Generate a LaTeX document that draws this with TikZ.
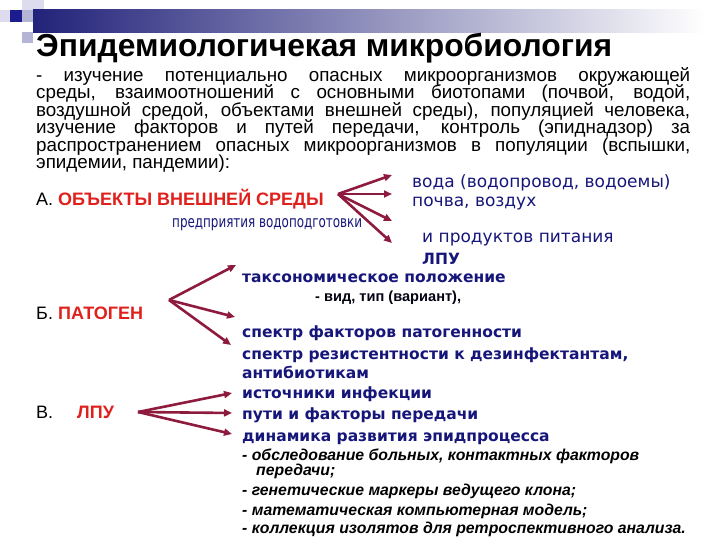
\documentclass[tikz,border=0pt]{standalone}
\usepackage{fontspec}
\usepackage{graphicx}
\setmainfont{Liberation Sans}
\newfontfamily\dv{DejaVu Sans}
\usetikzlibrary{arrows.meta}
\definecolor{navytxt}{HTML}{16167A}
\definecolor{redtxt}{HTML}{E0201C}
\definecolor{arrowc}{HTML}{8E1A3E}
\definecolor{barnavy}{HTML}{22227A}
\definecolor{barmid}{HTML}{A8A8C8}
\definecolor{sqdark}{HTML}{1C1C8E}
\definecolor{sqlight}{HTML}{B4B4D6}
\definecolor{sqpale}{HTML}{DCDCEE}
\begin{document}
\begin{tikzpicture}[x=1pt,y=-1pt,
  lbl/.style={anchor=base west,inner sep=0pt,font=\fontsize{18}{20}\selectfont},
  redlbl/.style={anchor=base west,inner sep=0pt,text=redtxt,font=\fontsize{18}{20}\selectfont\bfseries},
  bluereg/.style={anchor=base west,inner sep=0pt,text=navytxt,font=\dv\fontsize{17}{20}\selectfont},
  bluebold/.style={anchor=base west,inner sep=0pt,text=navytxt,font=\dv\fontsize{15.5}{20}\selectfont\bfseries},
  note/.style={anchor=base west,inner sep=0pt,font=\fontsize{15.8}{17}\selectfont\bfseries\itshape},
  arr/.style={draw=arrowc,line width=2.6pt,-{Triangle[length=8pt,width=7pt]}},
]
\useasboundingbox (0,0) rectangle (720,540);
% header decoration
\fill[sqpale] (22,0) rectangle (44,10);
\fill[sqpale] (0,10) rectangle (10,22);
\fill[sqdark] (10,10) rectangle (22,22);
\fill[sqlight] (22,10) rectangle (33,22);
\fill[sqlight] (22,32) rectangle (33,43);
\shade[left color=barnavy,middle color=barmid,right color=white] (33,10) rectangle (705,33);
% title
\node[anchor=base west,inner sep=0pt,font=\fontsize{31.8}{32}\selectfont\bfseries] (title) at (36,57) {Эпидемиологичекая микробиология};
% paragraph (one block)
\node[anchor=base west,inner sep=0pt] (para) at (36,81.5) {\parbox[t]{654pt}{\fontsize{18.8}{17.5}\selectfont\lineskiplimit=-20pt\parindent=0pt
\makebox[654pt][s]{- изучение потенциально опасных микроорганизмов окружающей}\\
\makebox[654pt][s]{среды, взаимоотношений с основными биотопами (почвой, водой,}\\
\makebox[654pt][s]{воздушной средой, объектами внешней среды), популяцией человека,}\\
\makebox[654pt][s]{изучение факторов и путей передачи, контроль (эпиднадзор) за}\\
\makebox[654pt][s]{распространением опасных микроорганизмов в популяции (вспышки,}\\
эпидемии, пандемии):}};
% A
\node[lbl] (aA) at (36,206) {А.};
\node[redlbl] (aObj) at (58,206) {ОБЪЕКТЫ ВНЕШНЕЙ СРЕДЫ};
\node[bluereg] (a1) at (412,188) {вода (водопровод, водоемы)};
\node[bluereg] (a2) at (412,207) {почва, воздух};
\node[bluereg,font=\dv\fontsize{16}{20}\selectfont] (a3) at (172,228) {\resizebox{190pt}{\height}{предприятия водоподготовки}};
\node[bluereg] (a4) at (422,243) {и продуктов питания};
\node[bluebold] (a5) at (422,264) {ЛПУ};
\coordinate (Ao) at (338,194);
\coordinate (Ae1) at (392,175);
\coordinate (Ae2) at (392,194);
\coordinate (Ae3) at (392,221);
\coordinate (Ae4) at (392,243);
\foreach \e in {Ae1,Ae2,Ae3,Ae4} \draw[arr] (Ao) -- (\e);
% B
\node[bluebold] (b1) at (242,282) {таксономическое положение};
\node[anchor=base west,inner sep=0pt,font=\fontsize{14.6}{16}\selectfont\bfseries,text=black!85!navytxt] (b2) at (315,301) {- вид, тип (вариант),};
\node[lbl] (bB) at (36,319) {Б.};
\node[redlbl] (bPat) at (58,319) {ПАТОГЕН};
\node[bluebold] (b3) at (242,337) {спектр факторов патогенности};
\node[bluebold] (b4) at (242,359) {спектр резистентности к дезинфектантам,};
\node[bluebold] (b5) at (242,378) {антибиотикам};
\coordinate (Bo) at (169,300);
\coordinate (Be1) at (236,265);
\coordinate (Be2) at (235,317);
\coordinate (Be3) at (231,345);
\foreach \e in {Be1,Be2,Be3} \draw[arr] (Bo) -- (\e);
% V
\node[lbl] (vV) at (36,418) {В.};
\node[redlbl] (vL) at (77,418) {ЛПУ};
\node[bluebold] (v1) at (242,398) {источники инфекции};
\node[bluebold] (v2) at (242,419) {пути и факторы передачи};
\node[bluebold] (v3) at (242,441) {динамика развития эпидпроцесса};
\coordinate (Vo) at (138,412);
\coordinate (Ve1) at (232,393);
\coordinate (Ve2) at (232,413);
\coordinate (Ve3) at (232,434);
\foreach \e in {Ve1,Ve2,Ve3} \draw[arr] (Vo) -- (\e);
% notes
\node[note] (n1) at (242,460) {\parbox[t]{460pt}{\lineskiplimit=-20pt\baselineskip=15.5pt\parindent=0pt
- обследование больных, контактных факторов\\\hspace*{14pt}передачи;}};
\node[note] (n2) at (242,495) {- генетические маркеры ведущего клона;};
\node[note] (n3) at (242,515) {- математическая компьютерная модель;};
\node[note] (n4) at (242,533) {- коллекция изолятов для ретроспективного анализа.};
\end{tikzpicture}
\end{document}
